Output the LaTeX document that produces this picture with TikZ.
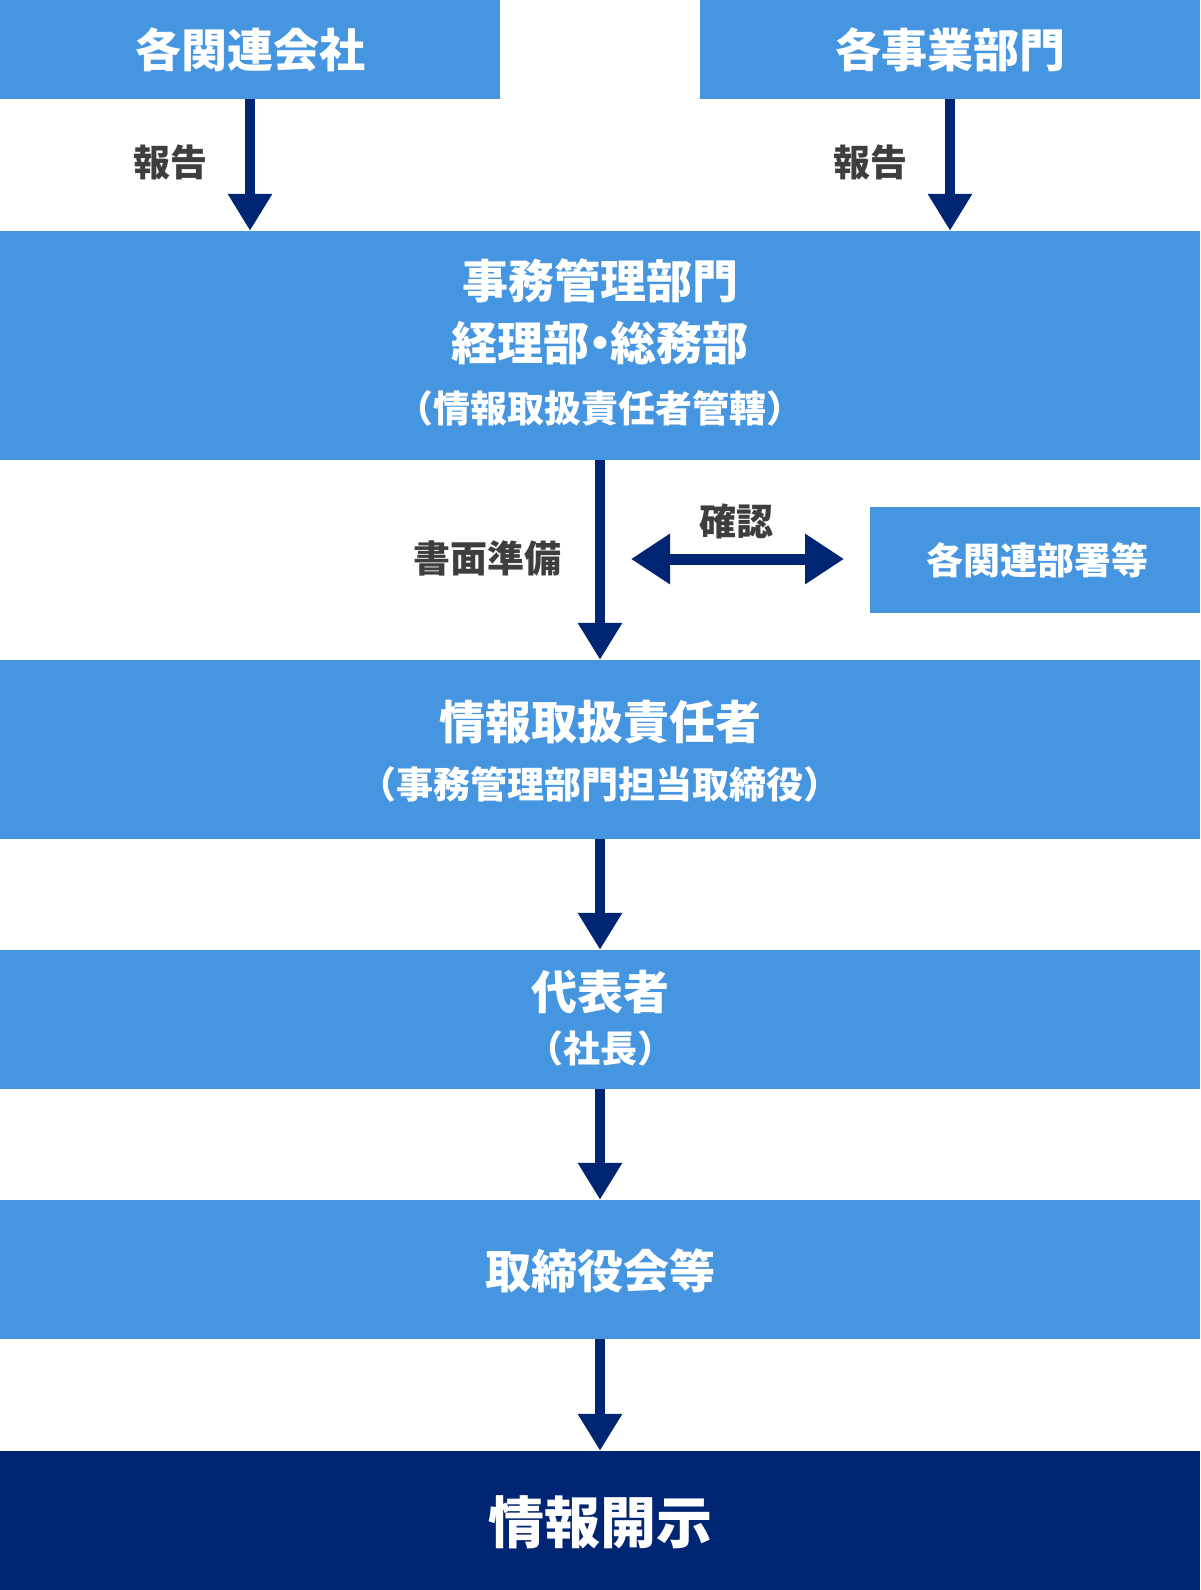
\documentclass[tikz,border=0pt]{standalone}
\usepackage{fontspec}
\newfontfamily\jp{Noto Sans CJK JP}
\usetikzlibrary{arrows.meta}
\definecolor{boxblue}{RGB}{69,149,224}
\definecolor{navy}{RGB}{0,38,115}
\definecolor{labelgray}{RGB}{62,62,62}
\tikzset{
  box/.style={fill=boxblue, draw=none, inner sep=0pt, text=white},
  navybox/.style={fill=navy, draw=none, inner sep=0pt, text=white},
  big/.style={font=\jp\bfseries\fontsize{46pt}{50pt}\selectfont, text=white, inner sep=0pt},
  sub/.style={font=\jp\bfseries\fontsize{37pt}{42pt}\selectfont, text=white, inner sep=0pt},
  lbl/.style={font=\jp\bfseries\fontsize{37pt}{42pt}\selectfont, text=labelgray, inner sep=0pt},
  arr/.style={draw=navy, line width=10pt, -{Triangle[length=37pt,width=42pt]}},
  darr/.style={draw=navy, line width=11pt, {Triangle[length=39pt,width=48pt]}-{Triangle[length=39pt,width=48pt]}},
}
\begin{document}
\begin{tikzpicture}[x=1pt,y=-1pt]
\useasboundingbox (0,0) rectangle (1200,1590);
\fill[white] (0,0) rectangle (1200,1590);
% boxes
\node[box, minimum width=500pt, minimum height=99pt] (b1) at (250,49.5) {};
\node[box, minimum width=500pt, minimum height=99pt] (b1r) at (950,49.5) {};
\node[box, minimum width=1200pt, minimum height=229pt] (b2) at (600,345.5) {};
\node[box, minimum width=330pt, minimum height=106pt] (b7) at (1035,560) {};
\node[box, minimum width=1200pt, minimum height=179pt] (b3) at (600,749.5) {};
\node[box, minimum width=1200pt, minimum height=139pt] (b4) at (600,1019.5) {};
\node[box, minimum width=1200pt, minimum height=139pt] (b5) at (600,1269.5) {};
\node[navybox, minimum width=1200pt, minimum height=139pt] (b6) at (600,1520.5) {};
% texts
\node[big] (t1) at (250,50) {各関連会社};
\node[big] (t1r) at (950,50) {各事業部門};
\node[big] (t2a) at (600,281) {事務管理部門};
\node[big] (t2b) at (600,343) {経理部\kern-12.5pt・\kern-12.5pt総務部};
\node[sub] (t2c) at (600,408) {（情報取扱責任者管轄）};
\node[sub] (t7) at (1037,560) {各関連部署等};
\node[big] (t3a) at (600,722) {情報取扱責任者};
\node[sub] (t3b) at (600,784) {（事務管理部門担当取締役）};
\node[big] (t4a) at (600,992) {代表者};
\node[sub] (t4b) at (600,1048) {（社長）};
\node[big] (t5) at (600,1271) {取締役会等};
\node[font=\jp\bfseries\fontsize{56pt}{60pt}\selectfont, text=white, inner sep=0pt] (t6) at (600,1522) {情報開示};
% labels
\node[lbl] (l1) at (170,162) {報告};
\node[lbl] (l2) at (870,162) {報告};
\node[lbl] (l3) at (487,558) {書面準備};
\node[lbl] (l4) at (736,521) {確認};
% arrows
\draw[arr] (b1.south) -- (b2.north -| b1.south);
\draw[arr] (b1r.south) -- (b2.north -| b1r.south);
\draw[arr] (b2.south) -- (b3.north);
\draw[arr] (b3.south) -- (b4.north);
\draw[arr] (b4.south) -- (b5.north);
\draw[arr] (b5.south) -- (b6.north);
\coordinate (dl) at (631,559);
\coordinate (dr) at (844,559);
\draw[darr] (dl) -- (dr);
\end{tikzpicture}
\end{document}
